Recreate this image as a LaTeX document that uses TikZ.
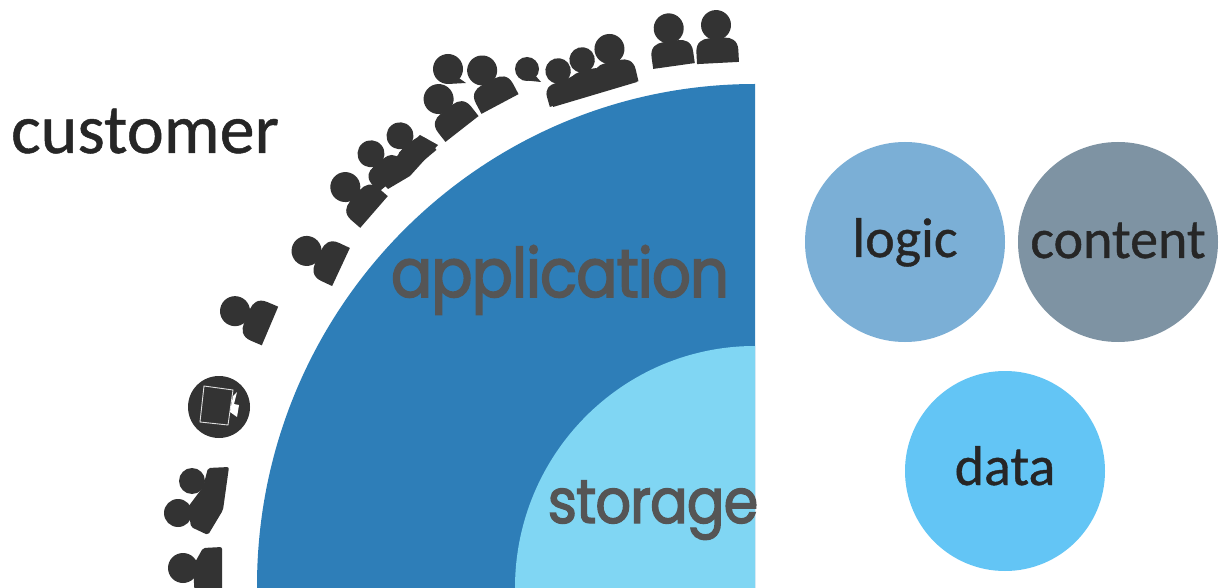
\documentclass[tikz,border=0pt]{standalone}
\usepackage{fontspec}
\newfontfamily\labelfont[RawFeature={embolden=0.7}]{Carlito}
\newfontfamily\geo[FakeStretch=.9,FakeBold=2.2,LetterSpace=-1.5]{Poppins}
\definecolor{ink}{HTML}{333333}
\definecolor{labelink}{HTML}{262626}
\definecolor{appblue}{HTML}{2E7EB8}
\definecolor{storeblue}{HTML}{80D6F3}
\definecolor{logicblue}{HTML}{7BAFD6}
\definecolor{contentgrey}{HTML}{7E93A3}
\definecolor{datablue}{HTML}{63C5F5}
\definecolor{geotext}{HTML}{555555}
\newcommand{\persona}[4]{%
\begin{scope}[shift={(#1,#2)},rotate=#3,scale=#4]
\fill[ink] (0,-38) circle (15);
\fill[ink] (-21,0) -- (-21,-12) .. controls (-21,-22) and (-14,-25) .. (-8,-25) -- (8,-25) .. controls (14,-25) and (21,-22) .. (21,-12) -- (21,0) -- cycle;
\end{scope}}
\tikzset{label text/.style={font=\labelfont\fontsize{#1}{#1}\selectfont,text=labelink,inner sep=0pt,anchor=base},
 geo text/.style={font=\geo\fontsize{#1}{#1}\selectfont,text=geotext,inner sep=0pt,anchor=base},
 disc/.style={circle,minimum size=200pt,inner sep=0pt}}
\begin{document}
\begin{tikzpicture}[x=1pt,y=-1pt]
\useasboundingbox (0,0) rectangle (1219,588);
\clip (0,0) rectangle (1219,588);
\fill[white] (0,0) rectangle (1219,588);
% quarter discs
\begin{scope}
\clip (0,0) rectangle (755,588);
\fill[appblue] (755,586) ellipse[x radius=498,y radius=502];
\fill[storeblue] (755,588) ellipse[x radius=240,y radius=242];
\end{scope}
% circles
\node[disc,fill=logicblue] (logicc) at (905,242) {};
\node[disc,fill=contentgrey] (contentc) at (1118,242) {};
\node[disc,fill=datablue] (datac) at (1005,471) {};
\node[label text=56] (logict) at (905,257) {logic};
\node[label text=56] (contentt) at (1118,258) {content};
\node[label text=56] (datat) at (1005,485) {data};
\node[label text=70] (cust) at (145,153) {customer};
\node[geo text=68] (app) at (560,297) {application};
\node[geo text=62] (sto) at (653,523) {storage};
% people
\persona{718}{63}{3}{1}
\persona{674}{66}{8}{1}
\persona{618}{86}{13}{1}
\persona{591}{91}{16}{.85}
\persona{567}{102}{16}{.85}
\fill[ink] (553,107) -- (637,82) -- (625,65) -- (580,72) -- (556,85) -- cycle;
\persona{500}{104}{28}{1}
\persona{462}{129}{38}{1}
\persona{422}{162}{40}{.9}
\persona{393}{180}{40}{.9}
\fill[ink] (388,189) -- (410,176) -- (438,145) -- (420,135) -- (395,158) -- (373,173) -- cycle;
\persona{374}{212}{49}{1}
\persona{341}{267}{65}{1}
\persona{270}{326}{67}{1}
% partly hidden figures
\fill[ink] (527,69) circle (12);
\fill[ink] (522,80) -- (541,82) -- (534,74) -- cycle;
\fill[ink] (448,69) circle (15);
\fill[ink] (448,84) -- (466,83) -- (456,76) -- cycle;
% tablet badge
\fill[ink] (219,407) circle (31);
\draw[white!85!ink,line width=.9pt] (204,386) -- (233,390) -- (228,425) -- (200,422) -- cycle;
\fill[white] (233,396) -- (237,392) -- (234,404) -- (239,405) -- (237,417) -- (230,412) -- cycle;
% lower group
\fill[ink] (192,481) circle (13) (178,513) circle (14);
\fill[ink,rounded corners=2pt] (229,467) -- (208,468) -- (203,487) -- (188,507) -- (191,527) -- (208,535) -- (223,510) -- cycle;
\fill[ink] (183,568) circle (15);
\fill[ink,rounded corners=2pt] (222,547) -- (203,548) -- (193,566) -- (195,600) -- (222,600) -- cycle;
\end{tikzpicture}
\end{document}
